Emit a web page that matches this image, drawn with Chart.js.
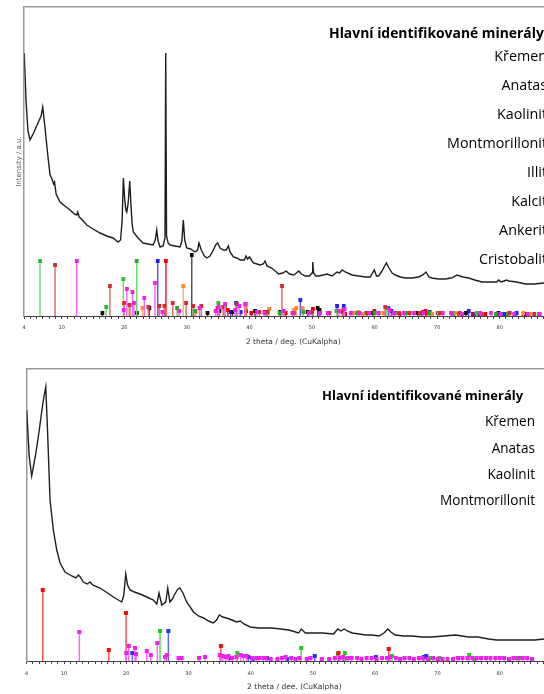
<!DOCTYPE html>
<html>
<head>
<meta charset="utf-8">
<script src="https://cdn.jsdelivr.net/npm/chart.js@4.4.0/dist/chart.umd.min.js"></script>
<style>
  html, body { margin: 0; padding: 0; background: #fff; width: 544px; height: 694px; overflow: hidden; }
  .box { position: absolute; left: 0; width: 600px; }
  #box1 { top: 0; height: 355px; }
  #box2 { top: 360px; height: 334px; }
  .lg { position: absolute; font-family: "Open Sans", Lato, sans-serif; color: #000; white-space: nowrap; line-height: 1; }
  .lg.head { font-weight: bold; }
</style>
</head>
<body>
<div class="box" id="box1"><canvas id="top" width="600" height="355"></canvas></div>
<div class="box" id="box2"><canvas id="bottom" width="600" height="334"></canvas></div>
<div id="legends"></div>
<script>
// tick labels and legend text
const tickLabels = [4, 10, 20, 30, 40, 50, 60, 70, 80, 90];
const legendTitle = "Hlavní identifikované minerály";
const legendTop = ["Křemen", "Anatas", "Kaolinit", "Montmorillonit", "Illit", "Kalcit", "Ankerit", "Cristobalit"];
const legendBottom = ["Křemen", "Anatas", "Kaolinit", "Montmorillonit"];

// top diffractogram (2 theta, intensity a.u.)
const topTheta = [4.0, 4.3, 4.6, 4.93, 5.5, 6.2, 6.7, 6.96, 7.3, 7.7, 8.13, 8.45, 8.7, 8.85, 9.1, 9.73, 10.5, 11.33, 12.0, 12.4, 12.56, 12.8, 13.3, 14.0, 15.0, 16.12, 17.2, 18.2, 19.0, 19.4, 19.65, 19.85, 20.05, 20.25, 20.39, 20.6, 20.87, 21.05, 21.25, 21.44, 22.2, 22.99, 23.8, 24.59, 24.95, 25.18, 25.4, 25.71, 26.2, 26.5, 26.62, 26.75, 27.0, 27.31, 28.1, 28.9, 29.2, 29.43, 29.65, 29.98, 30.6, 31.3, 31.7, 31.94, 32.3, 32.8, 33.17, 33.7, 34.23, 34.6, 34.93, 35.3, 35.83, 36.3, 36.63, 36.9, 37.43, 38.0, 38.5, 39.2, 39.45, 39.7, 40.0, 40.62, 41.2, 41.69, 42.2, 42.49, 42.8, 43.56, 44.3, 44.68, 45.3, 45.85, 46.4, 47.08, 47.5, 47.88, 48.3, 48.93, 49.6, 50.0, 50.11, 50.25, 50.6, 51.07, 51.8, 52.4, 53.2, 53.6, 54.0, 54.4, 54.8, 55.3, 56.4, 57.5, 58.52, 59.3, 59.96, 60.3, 60.66, 61.2, 61.6, 61.88, 62.3, 62.8, 63.32, 64.1, 64.91, 66.0, 67.06, 67.7, 68.22, 68.7, 69.18, 70.2, 71.3, 72.3, 73.18, 74.1, 75.05, 76.0, 77.17, 78.5, 79.5, 79.84, 80.2, 80.7, 81.1, 81.44, 82.7, 84.09, 85.5, 87.03, 88.5, 90];
const topIntensity = [263, 215, 185, 176, 183, 193, 200, 209, 190, 165, 141, 137, 132, 134, 122, 114, 110, 106, 102, 101, 104, 99, 96, 91, 87, 83, 80, 78, 74, 76, 95, 138, 118, 106, 104, 112, 135, 112, 92, 84, 78, 73, 72, 71, 76, 86, 75, 69, 70, 78, 263, 80, 73, 71, 70, 69, 75, 96, 76, 68, 67, 64, 66, 73, 66, 60, 58, 60, 66, 71, 73, 68, 66, 66, 70, 64, 59, 58, 56, 56, 60, 57, 59, 53, 52, 51, 52, 55, 50, 48, 44, 42, 43, 45, 42, 41, 43, 45, 42, 40, 40, 43, 54, 43, 40, 40, 41, 42, 40, 42, 44, 43, 46, 44, 41, 40, 39, 39, 46, 40, 40, 45, 50, 53, 48, 43, 41, 39, 38, 38, 39, 41, 44, 39, 38, 37, 37, 38, 41, 39, 38, 36, 34, 34, 34, 36, 34, 35, 36, 35, 34, 32, 32, 33, 33, 33];

// top reference patterns [2 theta, height]
const topKremen = [[20.86, 11], [26.65, 55], [36.55, 6], [39.47, 5], [40.3, 3], [42.45, 4], [45.8, 3], [50.14, 7], [54.87, 4], [55.3, 2], [59.96, 5], [64.0, 2], [67.74, 4], [68.14, 5], [68.3, 3], [73.5, 2], [75.7, 2], [77.7, 2], [79.9, 2], [81.5, 3], [83.8, 2]];
const topAnatas = [[25.34, 55], [37.0, 4], [37.86, 13], [38.6, 4], [48.13, 16], [54.0, 10], [55.07, 10], [62.2, 8], [62.7, 5], [68.8, 4], [70.3, 3], [75.05, 5], [76.0, 2], [80.7, 2], [82.7, 3]];
const topKaolinit = [[12.4, 55], [19.9, 6], [20.4, 27], [21.3, 24], [21.55, 13], [23.2, 18], [24.9, 33], [26.1, 4], [28.75, 5], [32.0, 8], [34.6, 5], [35.1, 9], [36.1, 12], [37.7, 6], [38.4, 10], [39.3, 12], [41.2, 4], [42.4, 3], [45.5, 5], [46.9, 3], [49.5, 3], [51.3, 3], [52.5, 3], [54.3, 5], [55.2, 7], [56.2, 3], [57.6, 3], [59.2, 3], [60.6, 3], [62.4, 6], [63.1, 3], [64.7, 3], [66.3, 3], [67.8, 3], [70.9, 3], [72.2, 3], [74.0, 2], [76.9, 3], [78.6, 3], [80.1, 2], [82.3, 2], [84.5, 2], [86.4, 2]];
const topMontmorillonit = [[6.53, 55], [17.1, 9], [19.85, 37], [35.03, 13], [53.9, 5], [61.9, 8], [72.5, 3], [76.4, 3], [86.2, 2]];
const topIllit = [[8.93, 51], [17.7, 30], [19.96, 13], [20.8, 11], [23.85, 9], [25.6, 10], [26.4, 10], [27.74, 13], [29.87, 13], [31.03, 10], [32.3, 10], [34.9, 8], [35.8, 9], [38.0, 12], [39.4, 12], [41.6, 4], [42.9, 4], [45.2, 30], [47.1, 3], [50.0, 4], [52.8, 3], [55.0, 6], [58.8, 3], [61.7, 9], [63.9, 3], [65.6, 3], [67.2, 3], [70.4, 3], [73.6, 3], [77.1, 2], [81.6, 3], [85.5, 2]];
const topKalcit = [[22.9, 8], [29.43, 30], [31.4, 4], [35.97, 7], [39.4, 8], [43.15, 7], [47.1, 6], [47.5, 8], [48.5, 8], [56.6, 3], [57.4, 4], [58.1, 2], [60.7, 3], [61.4, 3], [63.1, 2], [64.7, 3], [65.6, 3], [69.2, 2], [70.2, 3], [72.9, 3], [73.7, 2], [76.3, 3], [77.2, 2], [81.5, 3], [83.8, 3], [84.8, 2]];
const topAnkerit = [[16.5, 3], [22.0, 3], [24.0, 8], [30.78, 61], [33.3, 3], [35.2, 5], [37.3, 4], [40.9, 5], [44.9, 4], [49.3, 4], [50.9, 8], [51.2, 6], [58.7, 3], [59.7, 3], [63.2, 3], [64.8, 3], [66.9, 3], [67.4, 3], [70.1, 3], [72.5, 2], [74.6, 3], [76.6, 2], [79.8, 3], [84.0, 2]];
const topCristobalit = [[21.98, 55], [28.44, 8], [31.3, 5], [36.1, 10], [42.7, 3], [44.8, 3], [46.9, 3], [48.6, 4], [57.2, 3], [60.0, 3], [65.1, 3], [68.7, 3], [79.4, 2], [81.3, 2]];

// bottom diffractogram
const botTheta = [4.0, 4.4, 4.8, 5.4, 6.0, 6.6, 7.06, 7.35, 7.75, 8.28, 8.83, 9.36, 10.16, 11.24, 11.9, 12.3, 12.6, 13.1, 13.7, 14.18, 14.6, 15.78, 17.0, 17.92, 19.27, 19.6, 19.91, 20.2, 20.6, 21.3, 22.2, 23.3, 24.35, 24.9, 25.26, 25.7, 26.34, 26.66, 27.0, 27.4, 27.8, 28.3, 28.6, 29.1, 29.7, 30.8, 31.6, 32.4, 33.2, 34.0, 34.5, 34.95, 35.5, 36.1, 37.0, 37.7, 38.3, 38.9, 39.9, 41.2, 42.6, 43.4, 44.8, 46.1, 47.7, 48.1, 48.77, 50.1, 51.5, 53.3, 53.7, 54.0, 54.5, 55.0, 55.5, 56.3, 57.4, 58.4, 59.5, 60.6, 61.4, 62.0, 62.5, 63.2, 64.5, 65.9, 67.5, 69.1, 71.0, 72.9, 75.0, 76.5, 78.2, 79.5, 80.9, 82.5, 84.1, 85.6, 87.1, 90];
const botIntensity = [251, 205, 185, 205, 230, 258, 274, 230, 161, 131, 111, 98, 89, 85, 83, 86, 84, 79, 77, 79, 76, 73, 68, 64, 59, 66, 87, 76, 71, 69, 67, 64, 61, 57, 68, 56, 59, 73, 59, 62, 67, 72, 73, 68, 59, 49, 45, 43, 40, 38, 41, 46, 44, 43, 41, 39, 40, 37, 34, 33, 33, 33, 32, 31, 28, 32, 28, 28, 28, 27, 30, 32, 30, 32, 30, 28, 27, 26, 26, 25, 28, 32, 29, 26, 25, 25, 24, 24, 25, 26, 24, 24, 22, 21, 21, 21, 21, 21, 22, 22];

// bottom reference patterns
const botMontmorillonit = [[6.58, 71], [17.18, 11], [19.96, 48], [35.2, 15], [54.1, 8], [62.17, 12]];
const botKaolinit = [[12.46, 29], [20.0, 8], [20.4, 15], [21.4, 13], [21.57, 7], [23.29, 10], [23.93, 6], [24.99, 18], [26.23, 4], [26.5, 6], [28.4, 3], [28.9, 3], [31.7, 3], [32.65, 4], [35.0, 6], [35.5, 5], [36.0, 4], [36.4, 5], [37.0, 3], [37.7, 4], [38.4, 6], [38.8, 5], [39.3, 5], [40.2, 3], [40.9, 3], [41.3, 3], [42.0, 3], [42.4, 3], [43.2, 2], [44.3, 2], [45.0, 3], [45.6, 4], [46.5, 3], [47.2, 2], [47.8, 3], [49.0, 2], [49.6, 3], [51.4, 2], [52.6, 2], [53.5, 3], [54.3, 3], [54.8, 4], [55.6, 3], [56.2, 3], [57.1, 3], [57.8, 2], [58.6, 3], [59.4, 3], [60.2, 2], [61.1, 3], [61.9, 3], [62.4, 4], [63.3, 3], [64.0, 2], [64.7, 3], [65.5, 3], [66.2, 2], [67.0, 3], [67.6, 3], [68.5, 2], [69.3, 3], [70.0, 2], [70.8, 2], [71.6, 2], [72.5, 2], [73.3, 3], [74.0, 3], [74.8, 3], [75.6, 3], [76.3, 3], [77.0, 3], [77.8, 3], [78.5, 3], [79.3, 3], [80.0, 3], [80.7, 3], [81.5, 2], [82.2, 3], [83.0, 3], [83.7, 3], [84.4, 3], [85.2, 2]];
const botAnatas = [[25.42, 30], [37.85, 8], [48.1, 13], [54.0, 7], [55.1, 8], [62.7, 5], [68.8, 3], [70.3, 3], [75.1, 6], [76.0, 2], [82.7, 3], [83.2, 3]];
const botKremen = [[20.97, 8], [26.76, 30], [36.6, 3], [39.6, 4], [40.3, 2], [42.6, 3], [45.8, 2], [50.28, 5], [55.0, 2], [60.1, 4], [64.0, 2], [67.8, 4], [68.2, 5], [81.5, 2]];

function sticks(list) {
  const pts = [];
  list.forEach(([t, h]) => { pts.push({ x: t, y: 0 }, { x: t, y: h }, { x: t, y: null }); });
  return pts;
}

function stickSet(list, line, mark, r) {
  return {
    data: sticks(list),
    borderColor: line,
    backgroundColor: mark,
    pointBorderColor: mark,
    borderWidth: 1.5,
    pointStyle: 'rect',
    pointRadius: c => (c.raw && c.raw.y > 0 ? r : 0),
    spanGaps: false,
    order: 2
  };
}

function curveSet(theta, inten) {
  return {
    data: theta.map((t, i) => ({ x: t, y: inten[i] })),
    borderColor: '#1e1e1e',
    borderWidth: 1.4,
    pointRadius: 0,
    order: 1
  };
}

function makeChart(id, cfg) {
  new Chart(document.getElementById(id), {
    type: 'line',
    data: { datasets: cfg.datasets },
    options: {
      responsive: false,
      animation: false,
      devicePixelRatio: 1,
      layout: { padding: { left: 0, top: 0, right: cfg.padRight, bottom: 0 } },
      plugins: { legend: { display: false }, tooltip: { enabled: false } },
      scales: {
        x: {
          type: 'linear', min: 4, max: 90,
          border: { display: true, color: '#444', width: 1 },
          grid: { drawOnChartArea: false, color: '#444', tickLength: 3 },
          ticks: {
            stepSize: 1, autoSkip: false, maxRotation: 0, padding: cfg.tickPad,
            color: '#333', font: { family: 'DejaVu Sans', size: 5 },
            callback: v => (tickLabels.includes(v) ? String(v) : '')
          },
          title: {
            display: true, text: cfg.xTitle, color: '#333',
            font: { family: 'DejaVu Sans', size: 7.5 },
            padding: { top: 0, bottom: cfg.xTitlePad }
          },
          afterFit: s => { s.height = cfg.xHeight; }
        },
        xTop: {
          type: 'linear', position: 'top', min: 0, max: 1,
          border: { display: true, color: '#9a9a9a', width: 1.5 },
          grid: { display: false },
          ticks: { display: false },
          afterFit: s => { s.height = cfg.topHeight; }
        },
        y: {
          min: 0, max: cfg.yMax,
          border: { display: true, color: '#9a9a9a', width: 1.5 },
          grid: { display: false },
          ticks: { display: false },
          title: {
            display: !!cfg.yTitle, text: cfg.yTitle || '', color: '#555',
            font: { family: 'DejaVu Sans', size: 7 },
            padding: { top: 14.8, bottom: 0 }
          },
          afterFit: s => { s.width = cfg.yWidth; }
        }
      }
    }
  });
}

makeChart('top', {
  padRight: 37.7, tickPad: 6, xTitle: '2 theta / deg. (CuKalpha)', xTitlePad: 8.5,
  xHeight: 39, topHeight: 7, yMax: 309, yWidth: 24.2, yTitle: 'Intensity / a.u.',
  datasets: [
    curveSet(topTheta, topIntensity),
    stickSet(topKaolinit, '#ff66ff', '#ee22ee', 1.6),
    stickSet(topIllit, '#dd7070', '#cc3030', 1.6),
    stickSet(topMontmorillonit, '#77d877', '#33bb33', 1.6),
    stickSet(topCristobalit, '#66dd66', '#22aa22', 1.6),
    stickSet(topKalcit, '#ffb070', '#ff8a30', 1.6),
    stickSet(topAnkerit, '#555555', '#111111', 1.6),
    stickSet(topAnatas, '#5a5aff', '#2222ff', 1.6),
    stickSet(topKremen, '#ff2020', '#ee0000', 1.6)
  ]
});

makeChart('bottom', {
  padRight: 38, tickPad: 7, xTitle: '2 theta / dee. (CuKalpha)', xTitlePad: 2.5,
  xHeight: 33, topHeight: 9, yMax: 292, yWidth: 26.7, yTitle: '',
  datasets: [
    curveSet(botTheta, botIntensity),
    stickSet(botKaolinit, '#ff66ff', '#ee22ee', 1.8),
    stickSet(botMontmorillonit, '#ff5050', '#ee1111', 1.8),
    stickSet(botAnatas, '#55e055', '#22cc22', 1.8),
    stickSet(botKremen, '#5a6aff', '#2233ff', 1.8)
  ]
});

// legend text blocks
function addText(txt, cls, style) {
  const d = document.createElement('div');
  d.className = 'lg ' + cls;
  d.textContent = txt;
  Object.assign(d.style, style);
  document.getElementById('legends').appendChild(d);
}
const fsTop = 14.3, fsBot = 13.6, fsHeadTop = 13.9, fsHeadBot = 13.0;
addText(legendTitle, 'head', { left: '329px', top: (33 - fsHeadTop / 2) + 'px', fontSize: fsHeadTop + 'px' });
legendTop.forEach((n, i) => addText(n, '', { right: '-3px', top: (56 + i * 29 - fsTop / 2) + 'px', fontSize: fsTop + 'px' }));
addText(legendTitle, 'head', { left: '322px', top: (395 - fsHeadBot / 2) + 'px', fontSize: fsHeadBot + 'px' });
legendBottom.forEach((n, i) => addText(n, '', { right: '9px', top: (421 + i * 26.3 - fsBot / 2) + 'px', fontSize: fsBot + 'px' }));
</script>
</body>
</html>
